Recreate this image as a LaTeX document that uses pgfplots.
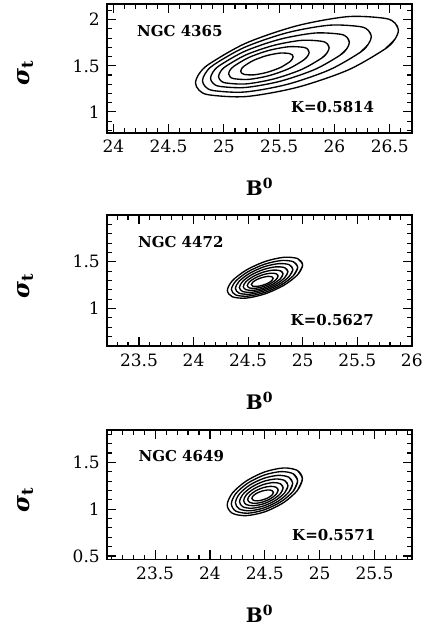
\documentclass[border=0pt]{standalone}
\usepackage{pgfplots}
\pgfplotsset{compat=1.18}
\usepackage{fontspec}
\setmainfont{DejaVu Serif}
\tikzset{lab/.style={anchor=west, inner sep=0pt, font=\fontsize{15}{15}\selectfont\bfseries}}
\pgfplotsset{
  panel/.style={
    scale only axis,
    width=304.5pt,
    anchor=south west,
    tick align=inside,
    major tick length=9pt,
    minor tick length=4.5pt,
    axis line style={line width=1.6pt},
    every tick/.append style={black, line width=1.1pt},
    every minor tick/.append style={black, line width=1.1pt},
    /pgf/number format/assume math mode=true,
    tick label style={font=\fontsize{17}{17}\selectfont},
    xticklabel style={yshift=-4pt},
    yticklabel style={xshift=-4pt},
    xlabel style={at={(axis description cs:0.5,-0.42)}, anchor=center, font=\fontsize{20}{20}\selectfont\bfseries},
    ylabel style={at={(axis description cs:-0.27,0.46)}, anchor=center, rotate=0, font=\fontsize{23}{23}\selectfont},
    xlabel={B\textsuperscript{0}},
    ylabel={{\bfseries\itshape σ}\textsubscript{\bfseries t}},
    clip=false,
  },
  ctr/.style={black, line width=1.35pt, smooth, mark=none},
}
\begin{document}
\begin{tikzpicture}
\path[use as bounding box] (0pt,0pt) rectangle (426pt,-630pt);
% ---------------- NGC 4365
\begin{axis}[panel, at={(107.3pt,-132.7pt)}, height=128.7pt,
  xmin=23.945, xmax=26.70, ymin=0.775, ymax=2.17,
  xtick={24,24.5,25,25.5,26,26.5}, ytick={1,1.5,2},
  minor xtick={24,24.1,...,26.7}, minor ytick={0.8,0.9,...,2.15}]
\addplot[ctr] coordinates {(25.594,1.542) (25.618,1.572) (25.626,1.598) (25.618,1.619) (25.594,1.633) (25.508,1.638) (25.389,1.611) (25.270,1.560) (25.184,1.498) (25.160,1.468) (25.152,1.442) (25.160,1.421) (25.184,1.407) (25.270,1.402) (25.389,1.429) (25.508,1.480) (25.594,1.542) (25.618,1.572) (25.626,1.598) (25.618,1.619)};
\addplot[ctr] coordinates {(25.722,1.563) (25.759,1.608) (25.771,1.647) (25.759,1.679) (25.722,1.700) (25.589,1.707) (25.407,1.667) (25.225,1.590) (25.092,1.497) (25.055,1.452) (25.043,1.413) (25.055,1.382) (25.092,1.360) (25.225,1.353) (25.407,1.393) (25.589,1.470) (25.722,1.563) (25.759,1.608) (25.771,1.647) (25.759,1.679)};
\addplot[ctr] coordinates {(25.885,1.584) (25.935,1.643) (25.952,1.696) (25.935,1.738) (25.885,1.766) (25.702,1.776) (25.452,1.722) (25.202,1.620) (25.019,1.496) (24.969,1.437) (24.952,1.384) (24.969,1.342) (25.019,1.314) (25.202,1.304) (25.452,1.358) (25.702,1.460) (25.885,1.584) (25.935,1.643) (25.952,1.696) (25.935,1.738)};
\addplot[ctr] coordinates {(26.051,1.615) (26.114,1.689) (26.135,1.755) (26.114,1.808) (26.051,1.843) (25.821,1.855) (25.507,1.788) (25.193,1.660) (24.963,1.505) (24.900,1.431) (24.879,1.365) (24.900,1.313) (24.963,1.277) (25.193,1.265) (25.507,1.332) (25.821,1.460) (26.051,1.615) (26.114,1.689) (26.135,1.755) (26.114,1.808)};
\addplot[ctr] coordinates {(26.232,1.645) (26.308,1.737) (26.334,1.817) (26.308,1.882) (26.232,1.925) (25.952,1.940) (25.570,1.858) (25.188,1.701) (24.908,1.511) (24.832,1.419) (24.806,1.339) (24.832,1.274) (24.908,1.231) (25.188,1.216) (25.570,1.298) (25.952,1.455) (26.232,1.645) (26.308,1.737) (26.334,1.817) (26.308,1.882)};
\addplot[ctr] coordinates {(26.456,1.681) (26.548,1.790) (26.579,1.886) (26.548,1.963) (26.456,2.015) (26.120,2.033) (25.661,1.934) (25.202,1.747) (24.866,1.519) (24.774,1.410) (24.743,1.314) (24.774,1.237) (24.866,1.185) (25.202,1.167) (25.661,1.266) (26.120,1.453) (26.456,1.681) (26.548,1.790) (26.579,1.886) (26.548,1.963)};
\node[lab] at (axis cs:24.213,1.88) {NGC 4365};
\node[lab] at (axis cs:25.606,1.048) {K=0.5814};
\end{axis}
% ---------------- NGC 4472
\begin{axis}[panel, at={(107.3pt,-346pt)}, height=131pt,
  xmin=23.21, xmax=26.0, ymin=0.60, ymax=2.0,
  xtick={23.5,24,24.5,25,25.5,26}, ytick={1,1.5},
  minor xtick={23.3,23.4,...,26.0}, minor ytick={0.6,0.7,...,1.95}]
\addplot[ctr] coordinates {(24.717,1.298) (24.730,1.324) (24.717,1.340) (24.680,1.344) (24.630,1.332) (24.580,1.310) (24.543,1.282) (24.530,1.257) (24.543,1.240) (24.580,1.237) (24.630,1.248) (24.680,1.270) (24.717,1.298) (24.730,1.324) (24.717,1.340)};
\addplot[ctr] coordinates {(24.756,1.309) (24.775,1.348) (24.756,1.373) (24.705,1.378) (24.634,1.361) (24.564,1.327) (24.512,1.285) (24.493,1.246) (24.512,1.221) (24.564,1.216) (24.634,1.233) (24.705,1.267) (24.756,1.309) (24.775,1.348) (24.756,1.373)};
\addplot[ctr] coordinates {(24.796,1.319) (24.820,1.371) (24.796,1.404) (24.729,1.411) (24.638,1.389) (24.547,1.343) (24.480,1.287) (24.456,1.235) (24.480,1.202) (24.547,1.195) (24.638,1.217) (24.729,1.263) (24.796,1.319) (24.820,1.371) (24.796,1.404)};
\addplot[ctr] coordinates {(24.835,1.330) (24.865,1.395) (24.835,1.437) (24.754,1.446) (24.643,1.418) (24.531,1.361) (24.450,1.290) (24.420,1.225) (24.450,1.183) (24.531,1.174) (24.643,1.203) (24.754,1.259) (24.835,1.330) (24.865,1.395) (24.835,1.437)};
\addplot[ctr] coordinates {(24.875,1.341) (24.910,1.419) (24.875,1.470) (24.779,1.480) (24.647,1.447) (24.516,1.378) (24.419,1.293) (24.384,1.215) (24.419,1.164) (24.516,1.154) (24.647,1.188) (24.779,1.256) (24.875,1.341) (24.910,1.419) (24.875,1.470)};
\addplot[ctr] coordinates {(24.914,1.351) (24.955,1.442) (24.914,1.501) (24.803,1.513) (24.651,1.474) (24.499,1.394) (24.388,1.295) (24.347,1.204) (24.388,1.145) (24.499,1.133) (24.651,1.172) (24.803,1.252) (24.914,1.351) (24.955,1.442) (24.914,1.501)};
\addplot[ctr] coordinates {(24.954,1.362) (25.000,1.466) (24.954,1.534) (24.828,1.548) (24.655,1.503) (24.483,1.411) (24.356,1.298) (24.310,1.194) (24.356,1.126) (24.483,1.112) (24.655,1.157) (24.828,1.249) (24.954,1.362) (25.000,1.466) (24.954,1.534)};
\node[lab] at (axis cs:23.49,1.715) {NGC 4472};
\node[lab] at (axis cs:24.889,0.882) {K=0.5627};
\end{axis}
% ---------------- NGC 4649
\begin{axis}[panel, at={(107.3pt,-559.3pt)}, height=129.3pt,
  xmin=23.064, xmax=25.84, ymin=0.465, ymax=1.845,
  xtick={23.5,24,24.5,25,25.5}, ytick={0.5,1,1.5},
  minor xtick={23.1,23.2,...,25.8}, minor ytick={0.5,0.6,...,1.8}]
\addplot[ctr] coordinates {(24.565,1.150) (24.578,1.179) (24.565,1.199) (24.529,1.205) (24.480,1.195) (24.431,1.173) (24.395,1.144) (24.382,1.115) (24.395,1.095) (24.431,1.089) (24.480,1.099) (24.529,1.121) (24.565,1.150) (24.578,1.179) (24.565,1.199)};
\addplot[ctr] coordinates {(24.603,1.158) (24.622,1.203) (24.603,1.234) (24.552,1.244) (24.483,1.229) (24.414,1.194) (24.363,1.148) (24.344,1.103) (24.363,1.072) (24.414,1.062) (24.483,1.077) (24.552,1.112) (24.603,1.158) (24.622,1.203) (24.603,1.234)};
\addplot[ctr] coordinates {(24.643,1.167) (24.667,1.228) (24.643,1.271) (24.577,1.284) (24.487,1.263) (24.397,1.215) (24.331,1.153) (24.307,1.092) (24.331,1.049) (24.397,1.037) (24.487,1.057) (24.577,1.105) (24.643,1.167) (24.667,1.228) (24.643,1.271)};
\addplot[ctr] coordinates {(24.681,1.175) (24.711,1.252) (24.681,1.306) (24.600,1.322) (24.490,1.297) (24.380,1.236) (24.299,1.157) (24.270,1.080) (24.299,1.026) (24.380,1.010) (24.490,1.035) (24.600,1.096) (24.681,1.175) (24.711,1.252) (24.681,1.306)};
\addplot[ctr] coordinates {(24.719,1.183) (24.754,1.276) (24.719,1.341) (24.624,1.361) (24.493,1.330) (24.362,1.257) (24.267,1.161) (24.232,1.068) (24.267,1.003) (24.362,0.983) (24.493,1.014) (24.624,1.087) (24.719,1.183) (24.754,1.276) (24.719,1.341)};
\addplot[ctr] coordinates {(24.759,1.192) (24.799,1.301) (24.759,1.378) (24.648,1.401) (24.497,1.365) (24.346,1.279) (24.235,1.166) (24.195,1.057) (24.235,0.980) (24.346,0.957) (24.497,0.994) (24.648,1.080) (24.759,1.192) (24.799,1.301) (24.759,1.378)};
\addplot[ctr] coordinates {(24.797,1.200) (24.843,1.325) (24.797,1.413) (24.672,1.440) (24.500,1.398) (24.329,1.299) (24.203,1.170) (24.157,1.045) (24.203,0.957) (24.329,0.931) (24.500,0.972) (24.672,1.071) (24.797,1.200) (24.843,1.325) (24.797,1.413)};
\node[lab] at (axis cs:23.347,1.566) {NGC 4649};
\node[lab] at (axis cs:24.748,0.722) {K=0.5571};
\end{axis}
\end{tikzpicture}
\end{document}
